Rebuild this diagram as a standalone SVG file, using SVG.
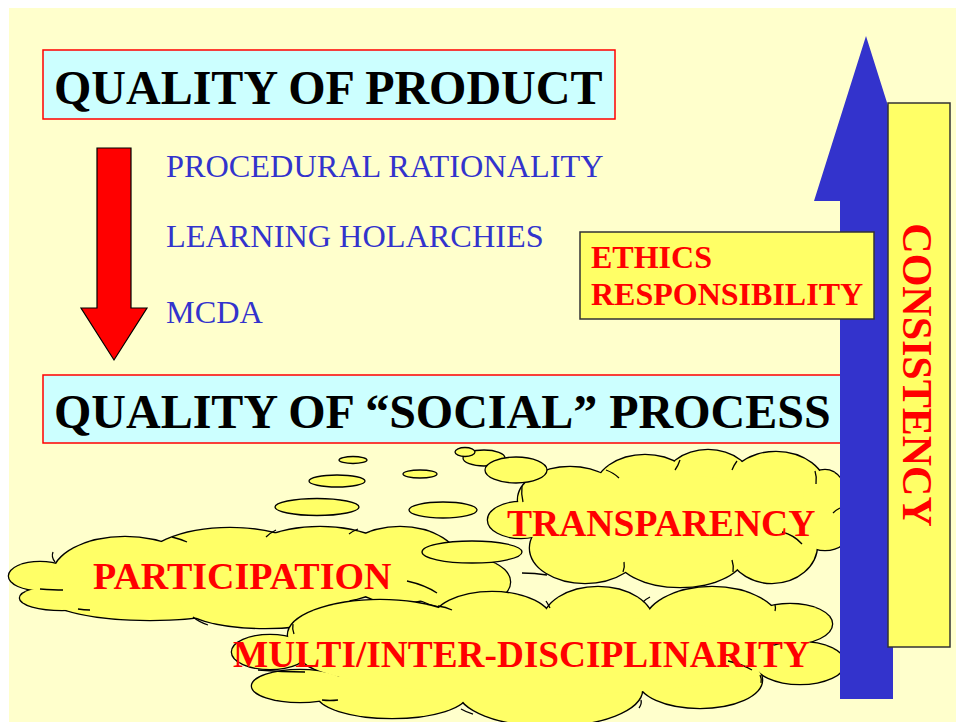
<svg xmlns="http://www.w3.org/2000/svg" xmlns:xlink="http://www.w3.org/1999/xlink" width="956" height="722" viewBox="0 0 956 722">
<style>
.bold{font-family:"Liberation Serif","Times New Roman",serif;font-weight:bold}
.reg{font-family:"Liberation Serif","Times New Roman",serif}
.title{font-size:48px;fill:#000}
.item{font-size:32.3px;fill:#3333CC}
.red{fill:#FF0000}
.cyanbox{fill:#CCFFFF;stroke:#FF0000;stroke-width:1.5}
.ybox{fill:#FFFF66;stroke:#333333;stroke-width:1.5}
.cs{fill:#FFFF66;stroke:#000;stroke-width:2.6}
.cf{fill:#FFFF66;stroke:none}
.tick{fill:none;stroke:#000;stroke-width:1.3}
.bub{fill:#FFFF66;stroke:#000;stroke-width:1.3}
</style>
<defs>
<g id="cpart">
<ellipse cx="40" cy="576" rx="31" ry="14"/>
<ellipse cx="62" cy="598" rx="42" ry="12"/>
<ellipse cx="125" cy="575" rx="72" ry="38"/>
<ellipse cx="230" cy="568" rx="90" ry="40"/>
<ellipse cx="320" cy="565" rx="80" ry="38"/>
<ellipse cx="400" cy="565" rx="60" ry="38"/>
<ellipse cx="458" cy="582" rx="52" ry="26"/>
<ellipse cx="150" cy="598" rx="100" ry="22"/>
<ellipse cx="265" cy="603" rx="85" ry="25"/>
</g>
<g id="ctrans">
<ellipse cx="570" cy="500" rx="52" ry="33"/>
<ellipse cx="645" cy="490" rx="50" ry="35"/>
<ellipse cx="708" cy="485" rx="45" ry="35"/>
<ellipse cx="776" cy="490" rx="50" ry="38"/>
<ellipse cx="825" cy="500" rx="22" ry="30"/>
<ellipse cx="825" cy="530" rx="25" ry="20"/>
<ellipse cx="772" cy="545" rx="45" ry="38"/>
<ellipse cx="680" cy="553" rx="65" ry="34"/>
<ellipse cx="585" cy="548" rx="55" ry="35"/>
<ellipse cx="521" cy="520" rx="33" ry="18"/>
<ellipse cx="670" cy="520" rx="130" ry="45"/>
</g>
<g id="cmulti">
<ellipse cx="270" cy="652" rx="38" ry="17"/>
<ellipse cx="300" cy="686" rx="48" ry="16"/>
<ellipse cx="380" cy="635" rx="92" ry="35"/>
<ellipse cx="492" cy="622" rx="60" ry="30"/>
<ellipse cx="598" cy="622" rx="55" ry="35"/>
<ellipse cx="712" cy="625" rx="68" ry="38"/>
<ellipse cx="790" cy="624" rx="42" ry="20"/>
<ellipse cx="800" cy="663" rx="45" ry="21"/>
<ellipse cx="700" cy="680" rx="62" ry="28"/>
<ellipse cx="550" cy="690" rx="92" ry="36"/>
<ellipse cx="392" cy="694" rx="75" ry="24"/>
<ellipse cx="540" cy="655" rx="240" ry="40"/>
</g>
</defs>

<rect x="0" y="0" width="956" height="722" fill="#FFFFFF"/>
<rect x="9" y="8" width="947" height="714" fill="#FFFFCC"/>

<g id="quality-product">
<rect class="cyanbox" x="43" y="50" width="572" height="69"/>
<text class="bold title" x="54" y="104">QUALITY OF PRODUCT</text>
</g>

<g id="items">
<text class="reg item" x="166" y="177">PROCEDURAL RATIONALITY</text>
<text class="reg item" x="166" y="247">LEARNING HOLARCHIES</text>
<text class="reg item" x="166" y="323">MCDA</text>
</g>

<g id="quality-social">
<rect class="cyanbox" x="43" y="375" width="820" height="68"/>
<text class="bold title" x="54" y="428">QUALITY OF “SOCIAL” PROCESS</text>
</g>

<g id="cloud-transparency">
<use xlink:href="#ctrans" href="#ctrans" class="cs"/>
<use xlink:href="#ctrans" href="#ctrans" class="cf"/>
<path class="tick" d="M522,486 q-1,8 1,16"/>
<path class="tick" d="M606,470 q8,3 13,8"/>
<path class="tick" d="M680,460 q-2,6 -5,10"/>
<path class="tick" d="M737,461 q-3,4 -5,9"/>
<path class="tick" d="M815,471 q2,6 1,13"/>
<path class="tick" d="M833,513 q3,-3 7,-5"/>
<path class="tick" d="M782,532 q12,3 20,12"/>
<path class="tick" d="M733,572 q1,-6 -1,-12"/>
<path class="tick" d="M623,572 q2,-5 1,-10"/>
<path class="tick" d="M522,573 q13,0 25,2"/>
<text class="bold red" style="font-size:37.6px" x="507" y="536">TRANSPARENCY</text>
</g>

<g id="cloud-participation">
<use xlink:href="#cpart" href="#cpart" class="cs"/>
<use xlink:href="#cpart" href="#cpart" class="cf"/>
<path class="tick" d="M53,552 q-2,5 2,10"/>
<path class="tick" d="M40,589 q14,1 23,1"/>
<path class="tick" d="M78,609 q6,1 12,1"/>
<path class="tick" d="M172,537 q8,2 15,5"/>
<path class="tick" d="M266,537 q4,-4 10,-7"/>
<path class="tick" d="M349,534 q4,-3 9,-5"/>
<path class="tick" d="M193,617 q6,5 15,8"/>
<path class="tick" d="M407,581 q18,4 30,12"/>
<path class="tick" d="M445,606 q5,1 9,3"/>
<text class="bold red" style="font-size:38px" x="93" y="589">PARTICIPATION</text>
</g>

<g id="cloud-multi">
<use xlink:href="#cmulti" href="#cmulti" class="cs"/>
<use xlink:href="#cmulti" href="#cmulti" class="cf"/>
<path class="tick" d="M293,624 q-1,5 1,10"/>
<path class="tick" d="M258,670 q24,2 47,2"/>
<path class="tick" d="M322,700 q8,1 16,0"/>
<path class="tick" d="M438,606 q8,1 14,4"/>
<path class="tick" d="M546,601 q2,3 4,7"/>
<path class="tick" d="M650,597 q-4,2 -7,5"/>
<path class="tick" d="M775,605 q1,3 0,6"/>
<path class="tick" d="M728,661 q14,3 24,9"/>
<path class="tick" d="M761,683 q1,-4 -1,-8"/>
<path class="tick" d="M641,700 q1,4 -2,8"/>
<path class="tick" d="M461,709 q5,3 12,5"/>
<text class="bold red" style="font-size:37.3px" x="233" y="667">MULTI/INTER-DISCIPLINARITY</text>
</g>

<g id="bubbles">
<ellipse class="bub" cx="353" cy="460" rx="14" ry="3.5"/>
<ellipse class="bub" cx="337" cy="481" rx="28" ry="6"/>
<ellipse class="bub" cx="317" cy="507" rx="42" ry="8.5"/>
<ellipse class="bub" cx="420" cy="474" rx="17" ry="4"/>
<ellipse class="bub" cx="443" cy="510" rx="34" ry="8"/>
<ellipse class="bub" cx="472" cy="552" rx="50" ry="11"/>
<ellipse class="bub" cx="484" cy="458" rx="21" ry="8"/>
<ellipse class="bub" cx="465" cy="452" rx="10" ry="4.5"/>
<ellipse class="bub" cx="516" cy="470" rx="31" ry="13"/>
</g>

<g id="connectors">
<polygon id="down-arrow" points="97,148 131,148 131,308 147,308 114,360 81,308 97,308" fill="#FF0000" stroke="#000" stroke-width="1.2"/>
<polygon id="up-arrow" points="840,699 840,201 814,201 866,36 918,201 893,201 893,699" fill="#3333CC"/>
</g>

<g id="ethics">
<rect class="ybox" x="580" y="232" width="294" height="87"/>
<text class="bold red" style="font-size:32px" x="591" y="268">ETHICS</text>
<text class="bold red" style="font-size:32px" x="591" y="305">RESPONSIBILITY</text>
</g>

<g id="consistency">
<rect class="ybox" x="888" y="103" width="62" height="544"/>
<text class="bold red" style="font-size:42px" text-anchor="middle" transform="translate(903,375) rotate(90)">CONSISTENCY</text>
</g>
</svg>
